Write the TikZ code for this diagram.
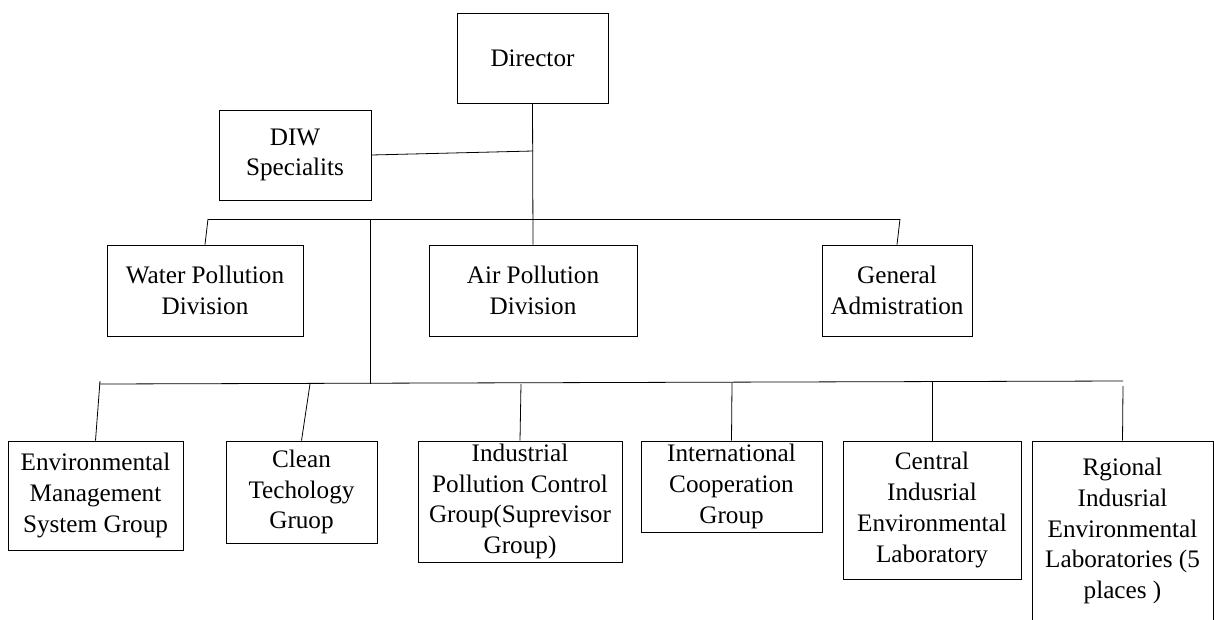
\documentclass[tikz,border=0pt]{standalone}
\usepackage{fontspec}
\setmainfont{Liberation Serif}
\begin{document}
\begin{tikzpicture}[x=1pt,y=-1pt,line width=0.8pt,
  orgbox/.style={draw,rectangle,inner sep=0pt,align=center,
    font=\fontsize{25.2}{30.7}\selectfont},
  link/.style={draw,line width=0.8pt}]
\useasboundingbox (0,0) rectangle (1214,619);

% top level
\node[orgbox,minimum width=151pt,minimum height=90pt] (dir) at (532.5,58) {Director};
\node[orgbox,minimum width=152pt,minimum height=90pt] (diw) at (295,155) {DIW\\Specialits};

% divisions
\node[orgbox,minimum width=196pt,minimum height=91pt] (water) at (205,290.5) {Water Pollution\\Division};
\node[orgbox,minimum width=208pt,minimum height=91pt] (air) at (533,290.5) {Air Pollution\\Division};
\node[orgbox,minimum width=150pt,minimum height=91pt] (gen) at (897,290.5) {General\\Admistration};

% groups and laboratories
\node[orgbox,minimum width=175pt,minimum height=109pt] (ems) at (95.5,495.5) {Environmental\\Management\\System Group};
\node[orgbox,minimum width=151pt,minimum height=102pt] (clean) at (301.5,492) {Clean\\Techology\\Gruop};
\node[orgbox,minimum width=204pt,minimum height=121pt] (ipc) at (520,501.5) {Industrial\\Pollution Control\\Group(Suprevisor\\Group)};
\node[orgbox,minimum width=181pt,minimum height=91pt] (intl) at (731.5,486.5) {International\\Cooperation\\Group};
\node[orgbox,minimum width=178pt,minimum height=138pt] (cent) at (932,510) {Central\\Indusrial\\Environmental\\Laboratory};
\node[orgbox,minimum width=181pt,minimum height=180pt] (reg) at (1122.5,531) {Rgional\\Indusrial\\Environmental\\Laboratories (5\\places )};

% junction points
\coordinate (jdiw) at (533,151);
\coordinate (tbL) at (208,219);
\coordinate (tbR) at (900,219);
\coordinate (trunkTop) at (370,219);
\coordinate (trunkBot) at (370,384);
\coordinate (bbL) at (99,384);
\coordinate (bbR) at (1123,381);
\coordinate (emsTop) at (100,381);
\coordinate (cleanTop) at (310,384);
\coordinate (ipcTop) at (521,384);
\coordinate (intlTop) at (732,383);
\coordinate (centTop) at (932,382);
\coordinate (regTop) at (1123,386);

% connectors
\draw[link] (dir.south) -- (air.north);
\draw[link] (diw.east) -- (jdiw);
\draw[link] (tbL) -- (tbR);
\draw[link] (tbL) -- (water.north);
\draw[link] (tbR) -- (gen.north);
\draw[link] (trunkTop) -- (trunkBot);
\draw[link] (bbL) -- (bbR);
\draw[link] (emsTop) -- (ems.north);
\draw[link] (cleanTop) -- (clean.north);
\draw[link] (ipcTop) -- (ipc.north);
\draw[link] (intlTop) -- (intl.north);
\draw[link] (centTop) -- (cent.north);
\draw[link] (regTop) -- (reg.north);
\end{tikzpicture}
\end{document}
